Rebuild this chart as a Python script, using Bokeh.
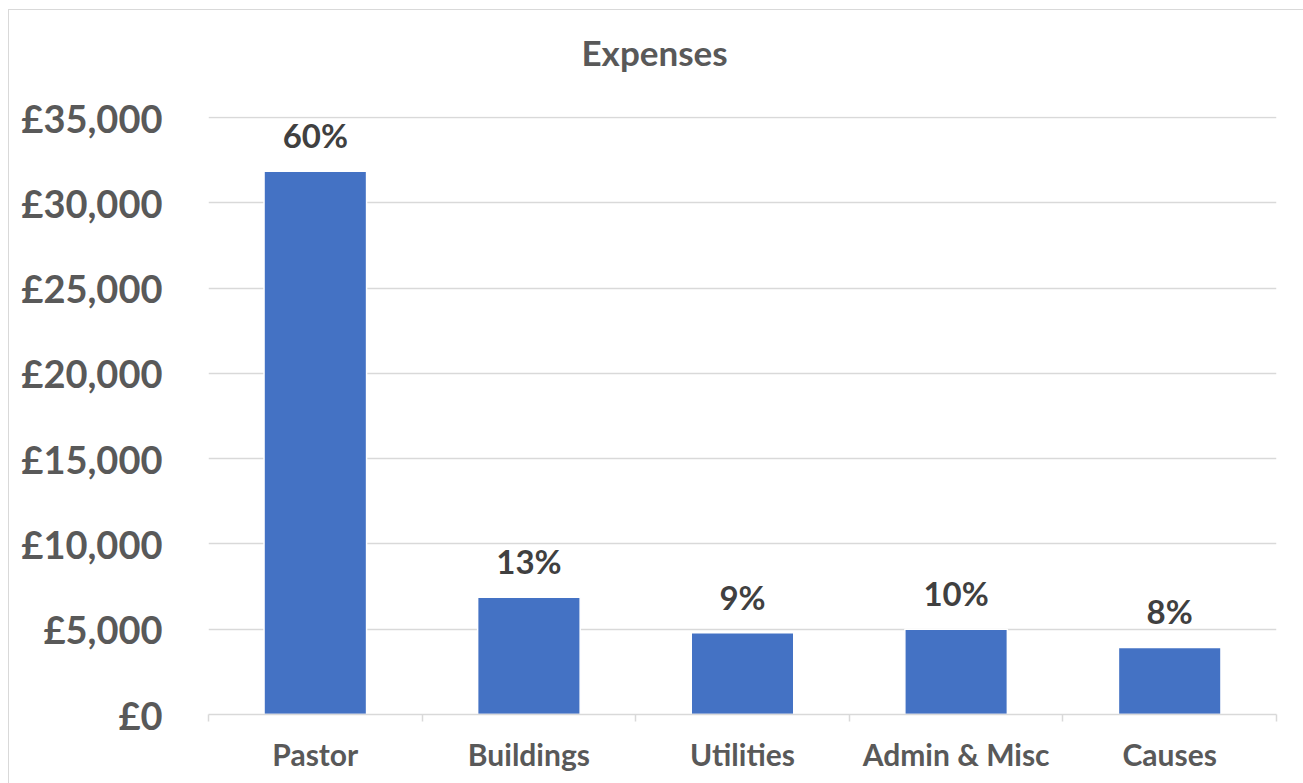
from bokeh.plotting import figure
from bokeh.models import ColumnDataSource, FixedTicker, Range1d, Title
from bokeh.core.properties import value
from bokeh.embed import file_html
from bokeh.resources import INLINE

categories = ["Pastor", "Buildings", "Utilities", "Admin & Misc", "Causes"]
amounts = [31850, 6880, 4800, 5000, 3930]
pct_labels = ["60%", "13%", "9%", "10%", "8%"]
y_ticks = [0, 5000, 10000, 15000, 20000, 25000, 30000, 35000]
y_tick_labels = ["£0", "£5,000", "£10,000", "£15,000", "£20,000", "£25,000", "£30,000", "£35,000"]
title_text = "Expenses"

FONT = "Lato"
x_pos = [i + 0.5 for i in range(len(categories))]
src = ColumnDataSource(dict(x=x_pos, y=amounts, lab=pct_labels, cat=categories))

p = figure(width=1294, height=774, output_backend="svg", toolbar_location=None, title=None,
           x_range=Range1d(0, len(categories)), y_range=Range1d(0, 35060),
           min_border_left=199, min_border_right=29, min_border_top=106, min_border_bottom=72)
p.margin = (9, 0, 0, 8)
p.styles = {"border": "1px solid #d9d9d9", "box-sizing": "content-box"}
p.outline_line_color = None
p.background_fill_color = "white"
p.border_fill_color = "white"

p.vbar(x="x", top="y", bottom=0, width=0.48, source=src, fill_color="#4472C4",
       line_color="white", line_width=1.5)
p.text(x="x", y="y", text="lab", source=src, text_align="center", text_baseline="alphabetic",
       y_offset=-36, text_font=value(FONT), text_font_style="bold", text_font_size="33px",
       text_color="#404040")

# spacer between plot frame and title (first "above" item sits next to the frame)
p.add_layout(Title(text=" ", text_font_size="1px", standoff=36), "above")
p.add_layout(Title(text=title_text, align="left", offset=373, standoff=10, text_font=FONT,
                   text_font_size="35px", text_font_style="bold", text_color="#595959"), "above")

# y axis
p.yaxis.ticker = FixedTicker(ticks=y_ticks)
p.yaxis.major_label_overrides = {t: l for t, l in zip(y_ticks, y_tick_labels)}
p.yaxis.axis_line_color = None
p.yaxis.major_tick_line_color = None
p.yaxis.minor_tick_line_color = None
p.yaxis.major_label_text_font = FONT
p.yaxis.major_label_text_font_style = "bold"
p.yaxis.major_label_text_font_size = "38px"
p.yaxis.major_label_text_color = "#595959"
p.yaxis.major_label_standoff = 40

# x axis
p.xaxis.ticker = FixedTicker(ticks=x_pos, minor_ticks=list(range(len(categories) + 1)))
p.xaxis.major_label_overrides = {x: c for x, c in zip(x_pos, categories)}
p.xaxis.axis_line_color = "#d9d9d9"
p.xaxis.axis_line_width = 1.5
p.xaxis.major_tick_line_color = None
p.xaxis.minor_tick_line_color = "#d9d9d9"
p.xaxis.minor_tick_line_width = 1.5
p.xaxis.minor_tick_in = 0
p.xaxis.minor_tick_out = 7
p.xaxis.major_tick_out = 0
p.xaxis.major_label_text_font = FONT
p.xaxis.major_label_text_font_style = "bold"
p.xaxis.major_label_text_font_size = "30px"
p.xaxis.major_label_text_color = "#595959"
p.xaxis.major_label_standoff = 14

p.xgrid.grid_line_color = None
p.ygrid.grid_line_color = "#d9d9d9"
p.ygrid.grid_line_width = 1.5

open("out.html", "w").write(file_html(p, INLINE))
